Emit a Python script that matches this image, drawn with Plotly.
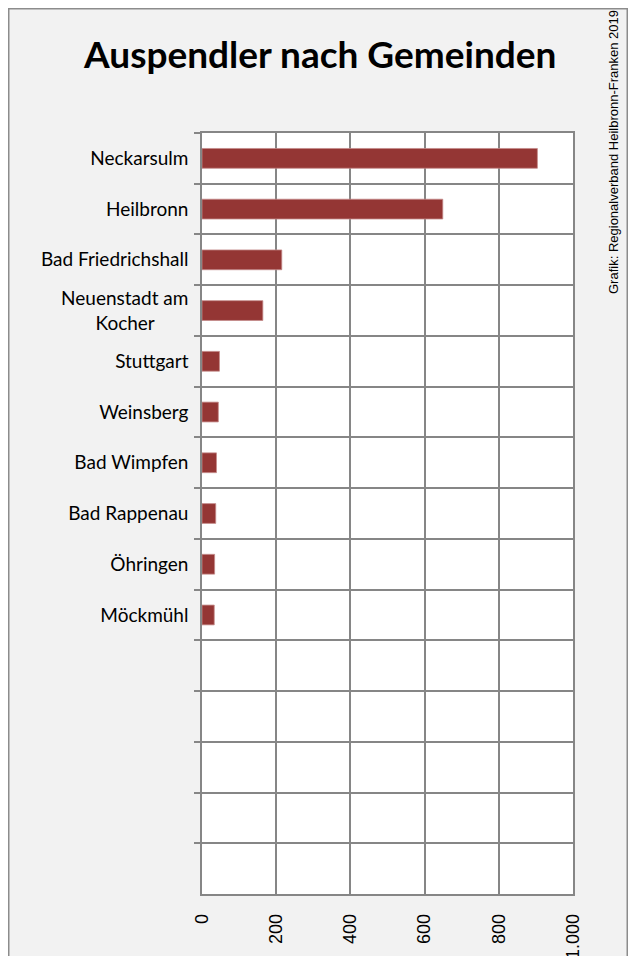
import plotly.graph_objects as go

categories = ["Neckarsulm", "Heilbronn", "Bad Friedrichshall",
              "Neuenstadt am<br>Kocher", "Stuttgart", "Weinsberg",
              "Bad Wimpfen", "Bad Rappenau", "Öhringen", "Möckmühl"]
values = [904, 649, 215, 164, 47, 44, 39, 37, 34, 33]
empty_slots = ["\u200b" * (i + 1) for i in range(5)]
tick_vals = [0, 200, 400, 600, 800, 1000]
title_text = "Auspendler nach Gemeinden"
source_text = "Grafik: Regionalverband Heilbronn-Franken 2019"

# label display (centre the second line of the wrapped label)
display = [c.replace("<br>Kocher", "<br>Kocher" + "\u00a0" * 7) for c in categories]
all_cats = display + empty_slots
all_vals = values + [None] * len(empty_slots)

W, H = 620, 948
L, R, T, B = 194, 55, 125, 62
pw, ph = W - L - R, H - T - B

def px_x(p):
    return (p - L) / pw

def px_y(p):
    return (H - B - p) / ph

fig = go.Figure()
fig.add_trace(go.Bar(
    y=all_cats, x=all_vals, orientation="h",
    marker=dict(color="#943634", line=dict(color="#c48a89", width=0.8)),
    width=0.39, showlegend=False,
))

grid = "#868686"
fig.update_layout(
    width=W, height=H,
    margin=dict(l=L, r=R, t=T, b=B, autoexpand=False),
    paper_bgcolor="#f2f2f2",
    plot_bgcolor="white",
    separators=",.",
    font=dict(family="Lato, Calibri, sans-serif", color="black"),
    xaxis=dict(
        range=[0, 1000], tickvals=tick_vals, separatethousands=True,
        tickangle=-90, showgrid=True, gridcolor=grid, gridwidth=1.5,
        showline=True, linecolor=grid, linewidth=1.5, mirror=True,
        zeroline=False, ticks="", ticklabelstandoff=11, automargin=False,
        tickfont=dict(family="Liberation Sans, Arial", size=18, color="black"),
    ),
    yaxis=dict(
        categoryorder="array", categoryarray=all_cats, autorange="reversed",
        tickson="boundaries", ticks="outside", ticklen=6, tickcolor=grid,
        tickwidth=1.5, showgrid=True, gridcolor=grid, gridwidth=1.5,
        showline=True, linecolor=grid, linewidth=1.5, mirror=True,
        ticklabelstandoff=8, automargin=False,
        tickfont=dict(family="Lato, Calibri, sans-serif", size=19, color="black"),
    ),
    shapes=[dict(
        type="rect", xref="paper", yref="paper", layer="below",
        x0=px_x(0.75), x1=px_x(W - 0.75), y0=px_y(H + 20), y1=px_y(0.75),
        fillcolor="rgba(0,0,0,0)", line=dict(color="#8c8c8c", width=1.5),
    )],
    annotations=[
        dict(text="<b>" + title_text + "</b>", xref="paper", yref="paper",
             x=px_x(311), y=px_y(45), showarrow=False,
             xanchor="center", yanchor="middle",
             font=dict(family="Lato, Calibri, sans-serif", size=37, color="black")),
        dict(text=source_text, xref="paper", yref="paper",
             x=px_x(605), y=px_y(144), showarrow=False, textangle=-90,
             xanchor="center", yanchor="middle",
             font=dict(family="Liberation Sans, Arial", size=13, color="black")),
    ],
)

fig.write_html("out.html")
